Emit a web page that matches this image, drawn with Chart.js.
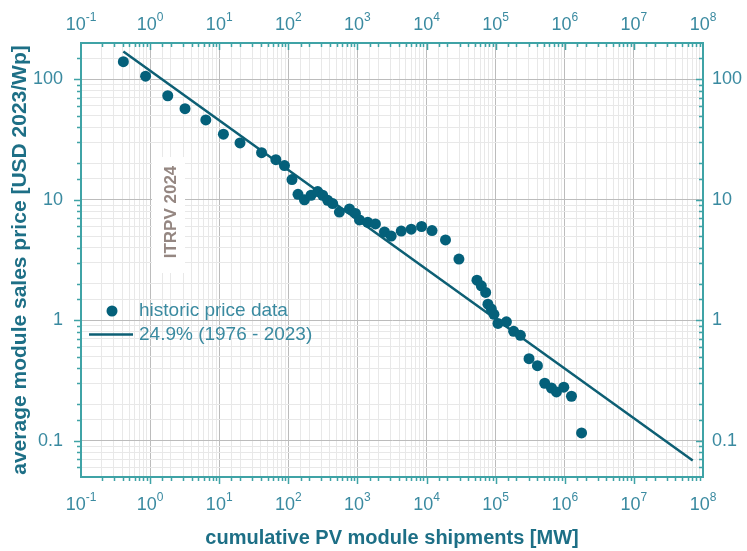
<!DOCTYPE html>
<html lang="en">
<head>
    <meta charset="UTF-8">
    <title>PV module price learning curve</title>
    <script src="https://cdn.jsdelivr.net/npm/chart.js@4.4.1/dist/chart.umd.min.js"></script>
    <style>
        body {
            margin: 0;
            padding: 0;
            background-color: #ffffff;
        }
        #chartContainer {
            position: relative;
            width: 747px;
            height: 551px;
        }
    </style>
</head>
<body>
    <div id="chartContainer">
        <canvas id="learningChart"></canvas>
    </div>

    <script>
        // cumulative shipments [MW] and price [USD 2023/Wp]
        const xShip = [0.41, 0.86, 1.8, 3.2, 6.4, 11.5, 20, 41, 66, 88, 113, 138, 171, 213, 266, 314,
                       371, 438, 548, 766, 935, 1070, 1410, 1820, 2460, 3080, 4300, 6000, 8470, 12000,
                       18800, 29400, 53600, 62000, 71600, 77300, 86500, 94400, 108000, 143000, 182000,
                       228000, 304000, 402000, 513000, 641000, 758000, 968000, 1250000, 1750000];
        const yPrice = [140, 106, 73, 57, 46, 35, 29.6, 24.6, 21.5, 19.2, 14.7, 11.1, 10.0, 10.9, 11.7, 10.9,
                        9.9, 9.3, 7.9, 8.4, 7.7, 6.8, 6.5, 6.3, 5.4, 5.0, 5.5, 5.7, 6.0, 5.55,
                        4.64, 3.22, 2.15, 1.93, 1.70, 1.36, 1.24, 1.12, 0.94, 0.97, 0.81,
                        0.75, 0.48, 0.42, 0.30, 0.274, 0.254, 0.278, 0.234, 0.116];

        // learning curve fit, end points
        const fitX = [0.41, 7.1e7];
        const fitY = [170, 0.0685];

        const seriesLabels = ['historic price data', '24.9% (1976 - 2023)'];
        const xExponents = ['-1', '0', '1', '2', '3', '4', '5', '6', '7', '8'];
        const yTickLabels = ['0.1', '1', '10', '100'];

        const TEAL_AXIS = '#3fa3a6';
        const TEAL_TEXT = '#3a8aa0';
        const TEAL_TITLE = '#1d6f86';
        const DOT = '#04607a';
        const FONT = '"Liberation Sans", Arial, sans-serif';

        Chart.defaults.font.family = FONT;

        function isPow10(v) {
            const l = Math.log10(v);
            return Math.abs(l - Math.round(l)) < 1e-6;
        }

        const gridColor = (c) => (c.tick && isPow10(c.tick.value)) ? '#bcbcbc' : '#e8e8e8';

        // tick marks, legend, watermark and superscript x labels
        const extras = {
            id: 'extras',
            beforeDatasetsDraw(chart) {
                const ctx = chart.ctx;
                // watermark
                ctx.save();
                ctx.fillStyle = '#ffffff';
                ctx.fillRect(152, 157, 33, 116);
                ctx.translate(171, 212);
                ctx.rotate(-Math.PI / 2);
                ctx.fillStyle = '#958782';
                ctx.font = 'bold 17px ' + FONT;
                ctx.textAlign = 'center';
                ctx.textBaseline = 'middle';
                ctx.fillText('ITRPV 2024', 0, 0);
                ctx.restore();
            },
            afterDraw(chart) {
                const ctx = chart.ctx;
                const a = chart.chartArea;
                const sx = chart.scales.x;
                const sy = chart.scales.y;

                ctx.save();
                ctx.strokeStyle = TEAL_AXIS;
                ctx.lineWidth = 1.5;
                ctx.beginPath();
                sx.ticks.forEach(t => {
                    const px = Math.round(sx.getPixelForValue(t.value)) + 0.5;
                    if (px < a.left + 1 || px > a.right - 1) return;
                    const len = isPow10(t.value) ? 7 : 4;
                    ctx.moveTo(px, a.bottom); ctx.lineTo(px, a.bottom + len);
                    ctx.moveTo(px, a.top); ctx.lineTo(px, a.top + len);
                });
                sy.ticks.forEach(t => {
                    const py = Math.round(sy.getPixelForValue(t.value)) + 0.5;
                    if (py < a.top + 1 || py > a.bottom - 1) return;
                    const len = isPow10(t.value) ? 7 : 4;
                    ctx.moveTo(a.left - len, py); ctx.lineTo(a.left, py);
                    ctx.moveTo(a.right - len, py); ctx.lineTo(a.right, py);
                });
                ctx.stroke();

                // x labels 10^n, top and bottom
                ctx.fillStyle = TEAL_TEXT;
                ctx.textBaseline = 'middle';
                ctx.textAlign = 'left';
                xExponents.forEach(e => {
                    const px = sx.getPixelForValue(Math.pow(10, Number(e)));
                    ctx.font = '18px ' + FONT;
                    const w1 = ctx.measureText('10').width;
                    ctx.font = '12px ' + FONT;
                    const w2 = ctx.measureText(e).width;
                    const x0 = px - (w1 + w2) / 2;
                    [505, 25].forEach(y => {
                        ctx.font = '18px ' + FONT;
                        ctx.fillText('10', x0, y);
                        ctx.font = '12px ' + FONT;
                        ctx.fillText(e, x0 + w1, y - 7);
                    });
                });

                // legend
                const ds = chart.data.datasets;
                ctx.fillStyle = DOT;
                ctx.beginPath();
                ctx.arc(112, 311, 5.5, 0, Math.PI * 2);
                ctx.fill();
                ctx.strokeStyle = ds[1].borderColor;
                ctx.lineWidth = 2.5;
                ctx.beginPath();
                ctx.moveTo(89, 334.5); ctx.lineTo(133, 334.5);
                ctx.stroke();
                ctx.fillStyle = TEAL_TEXT;
                ctx.font = '19px ' + FONT;
                ctx.fillText(ds[0].label, 139, 311);
                ctx.fillText(ds[1].label, 139, 335);
                ctx.restore();
            }
        };

        const yTickCallback = (v) => {
            if (!isPow10(v)) return '';
            const i = Math.round(Math.log10(v)) + 1;
            return yTickLabels[i] || '';
        };

        const config = {
            type: 'scatter',
            data: {
                datasets: [
                    {
                        label: seriesLabels[0],
                        data: xShip.map((x, i) => ({ x: x, y: yPrice[i] })),
                        backgroundColor: DOT,
                        borderWidth: 0,
                        pointRadius: 5.5,
                        xAxisID: 'x',
                        yAxisID: 'y'
                    },
                    {
                        label: seriesLabels[1],
                        data: fitX.map((x, i) => ({ x: x, y: fitY[i] })),
                        showLine: true,
                        borderColor: '#0d5f74',
                        borderWidth: 2.5,
                        pointRadius: 0,
                        xAxisID: 'x',
                        yAxisID: 'y'
                    }
                ]
            },
            options: {
                responsive: true,
                maintainAspectRatio: false,
                animation: false,
                layout: { padding: 0 },
                plugins: {
                    legend: { display: false },
                    tooltip: { enabled: false }
                },
                scales: {
                    x: {
                        type: 'logarithmic',
                        position: 'bottom',
                        min: 0.1,
                        max: 1e8,
                        grid: { color: gridColor, drawTicks: false },
                        border: { color: TEAL_AXIS, width: 2 },
                        ticks: { display: false, autoSkip: false },
                        title: {
                            display: true,
                            text: 'cumulative PV module shipments [MW]',
                            color: TEAL_TITLE,
                            font: { size: 20, weight: 'bold' },
                            padding: { top: 0, bottom: 1 }
                        },
                        afterFit: (s) => { s.height = 74; }
                    },
                    x2: {
                        type: 'logarithmic',
                        position: 'top',
                        min: 0.1,
                        max: 1e8,
                        grid: { drawOnChartArea: false, drawTicks: false },
                        border: { color: TEAL_AXIS, width: 2 },
                        ticks: { display: false, autoSkip: false },
                        afterFit: (s) => { s.height = 43; }
                    },
                    y: {
                        type: 'logarithmic',
                        position: 'left',
                        min: 0.05,
                        max: 200,
                        grid: { color: gridColor, drawTicks: false },
                        border: { color: TEAL_AXIS, width: 2 },
                        ticks: {
                            autoSkip: false,
                            color: TEAL_TEXT,
                            font: { size: 18 },
                            padding: 18,
                            callback: yTickCallback
                        },
                        title: {
                            display: true,
                            text: 'average module sales price [USD 2023/Wp]',
                            color: TEAL_TITLE,
                            font: { size: 21, weight: 'bold' },
                            padding: { top: 8, bottom: 0 }
                        },
                        afterFit: (s) => { s.width = 81; }
                    },
                    y2: {
                        type: 'logarithmic',
                        position: 'right',
                        min: 0.05,
                        max: 200,
                        grid: { drawOnChartArea: false, drawTicks: false },
                        border: { color: TEAL_AXIS, width: 2 },
                        ticks: {
                            autoSkip: false,
                            color: TEAL_TEXT,
                            font: { size: 18 },
                            padding: 9,
                            callback: yTickCallback
                        },
                        afterFit: (s) => { s.width = 44; }
                    }
                }
            },
            plugins: [extras]
        };

        new Chart(document.getElementById('learningChart').getContext('2d'), config);
    </script>
</body>
</html>
